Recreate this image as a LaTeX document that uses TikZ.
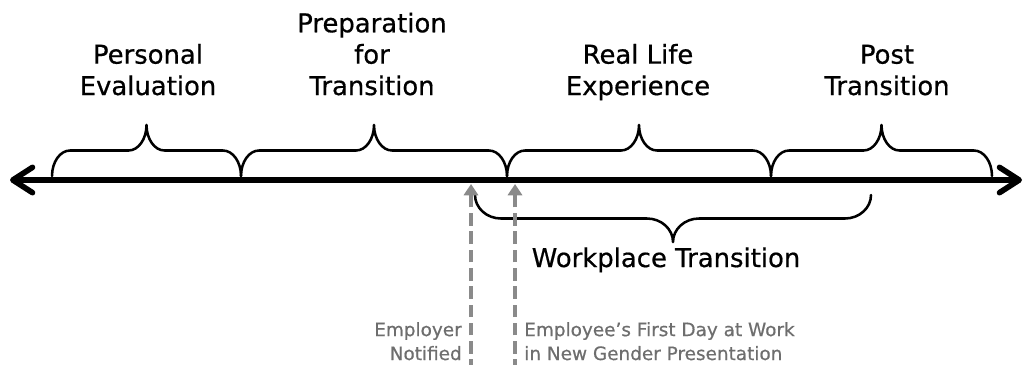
\documentclass[tikz,border=0pt]{standalone}
\usepackage{fontspec}
\setmainfont{DejaVu Sans}[FakeBold=0.6]
\usetikzlibrary{arrows.meta}
\usetikzlibrary{positioning}

\definecolor{notegray}{HTML}{6E6E6E}
\definecolor{dashgray}{HTML}{8A8A8A}

\tikzset{
  phase/.style={font=\fontsize{18.4}{22.3}\selectfont, align=center, inner sep=0pt},
  event/.style={font=\fontsize{13.1}{17}\selectfont, text=notegray, inner sep=0pt},
  brace line/.style={line width=1.8pt, line cap=round, line join=round},
  timeline/.style={line width=4pt,
    {Straight Barb[round,length=14pt,width=18pt]}-{Straight Barb[round,length=14pt,width=18pt]}},
  marker/.style={dashgray, line width=3.5pt, dash pattern=on 9pt off 4pt,
    -{Triangle[length=8pt,width=10pt]}},
}

% left x, right x, foot y, rise, end radius
\newcommand{\phasebrace}[5]{%
  \draw[brace line] (#1,#3)
    .. controls (#1,{#3+0.55*(#4)}) and ({#1+0.45*#5},{#3+(#4)}) .. ({#1+#5},{#3+(#4)})
    -- ({(#1+#2)/2-#5},{#3+(#4)})
    .. controls ({(#1+#2)/2-0.45*#5},{#3+(#4)}) and ({(#1+#2)/2},{#3+1.45*(#4)}) .. ({(#1+#2)/2},{#3+2*(#4)})
    .. controls ({(#1+#2)/2},{#3+1.45*(#4)}) and ({(#1+#2)/2+0.45*#5},{#3+(#4)}) .. ({(#1+#2)/2+#5},{#3+(#4)})
    -- ({#2-#5},{#3+(#4)})
    .. controls ({#2-0.45*#5},{#3+(#4)}) and (#2,{#3+0.55*(#4)}) .. (#2,#3);
}

\begin{document}
\begin{tikzpicture}[x=0.025cm, y=-0.025cm]
    \useasboundingbox (0,0) rectangle (1026,364);

    % time line
    \coordinate (west) at (10,180);
    \coordinate (east) at (1022,180);
    \draw[timeline] (west) -- (east);

    % phases
    \phasebrace{52}{241}{176}{-25.5}{18}
    \phasebrace{241}{507}{176}{-25.5}{18}
    \phasebrace{507}{771}{176}{-25.5}{18}
    \phasebrace{771}{992}{176}{-25.5}{18}

    \node[phase, anchor=base] (personal) at (148,95) {Personal\\Evaluation};
    \node[phase, anchor=base] (preparation) at (372,95) {Preparation\\for\\Transition};
    \node[phase, anchor=base] (reallife) at (638,95) {Real Life\\Experience};
    \node[phase, anchor=base] (post) at (887,95) {Post\\Transition};

    % workplace
    \phasebrace{475}{871}{195}{23.5}{26}
    \node[phase, anchor=base] (workplace) at (666,267) {Workplace Transition};

    % events
    \coordinate (notified top) at (471,184);
    \coordinate (notified foot) at (471,372);
    \coordinate (firstday top) at (515,184);
    \coordinate (firstday foot) at (515,372);
    \draw[marker] (notified foot) -- (notified top);
    \draw[marker] (firstday foot) -- (firstday top);

    \node[event, anchor=base east, align=right] (notified) at (462,360) {Employer\\Notified};
    \node[event, anchor=base west, align=left] (firstday) at (524,360) {Employee’s First Day at Work\\in New Gender Presentation};

  \end{tikzpicture}
\end{document}
